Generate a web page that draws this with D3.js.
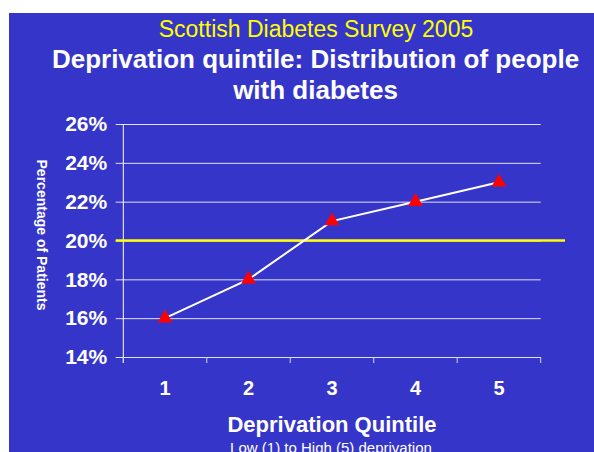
<!DOCTYPE html>
<html>
<head>
<meta charset="utf-8">
<script src="https://cdn.jsdelivr.net/npm/d3@7"></script>
<style>
  body { margin: 0; background: #ffffff; }
  svg { display: block; font-family: "Liberation Sans", Arial, sans-serif; }
</style>
</head>
<body>
<div id="chart"></div>
<script>
// chart data
var quintiles = ['1', '2', '3', '4', '5'];
var percentages = [16, 18, 21, 22, 23];
var yTicks = [14, 16, 18, 20, 22, 24, 26];
var referenceLevel = 20;

var W = 594, H = 452;
var plotLeft = 123.3, plotRight = 540.7, plotTop = 124, plotBottom = 357;

var svg = d3.select('#chart')
    .append('svg')
    .attr('width', W)
    .attr('height', H);

// blue slide background
svg.append('rect')
    .attr('x', 9).attr('y', 13)
    .attr('width', W - 9).attr('height', H - 13)
    .attr('fill', '#3535c9');

// titles
svg.append('text')
    .attr('x', 316).attr('y', 37)
    .attr('text-anchor', 'middle')
    .attr('fill', '#ffff00')
    .style('font-size', '23px')
    .text('Scottish Diabetes Survey 2005');

svg.append('text')
    .attr('x', 315.5).attr('y', 68)
    .attr('text-anchor', 'middle')
    .attr('fill', '#ffffff')
    .style('font-size', '26px').style('font-weight', 'bold')
    .text('Deprivation quintile: Distribution of people');

svg.append('text')
    .attr('x', 315.5).attr('y', 99)
    .attr('text-anchor', 'middle')
    .attr('fill', '#ffffff')
    .style('font-size', '26px').style('font-weight', 'bold')
    .text('with diabetes');

// scales
var x = d3.scaleBand()
    .domain(quintiles)
    .range([plotLeft, plotRight]);

var y = d3.scaleLinear()
    .domain([14, 26])
    .range([plotBottom, plotTop]);

// gridlines + y labels
var gx = 115.7;
var yAxis = svg.append('g')
    .attr('transform', 'translate(' + gx + ',0)')
    .call(d3.axisLeft(y)
        .tickValues(yTicks)
        .tickSize(-(plotRight - gx))
        .tickPadding(8.5)
        .tickFormat(function (d) { return d + '%'; }));
yAxis.select('.domain').remove();
yAxis.selectAll('line').attr('stroke', '#ffffff').attr('stroke-opacity', 0.85);
yAxis.selectAll('text')
    .attr('fill', '#ffffff')
    .style('font-size', '21px').style('font-weight', 'bold')
    .style('font-family', '"Liberation Sans", Arial, sans-serif');

// y axis line
svg.append('line')
    .attr('x1', plotLeft).attr('x2', plotLeft)
    .attr('y1', plotTop).attr('y2', plotBottom + 6)
    .attr('stroke', '#ffffff');

// x axis: ticks at band edges, labels at band centres
var edges = quintiles.map(function (q) { return x(q); })
    .concat([x(quintiles[quintiles.length - 1]) + x.bandwidth()]);
svg.selectAll('.xtick')
    .data(edges)
    .enter().append('line')
    .attr('x1', function (d) { return d; }).attr('x2', function (d) { return d; })
    .attr('y1', plotBottom).attr('y2', plotBottom + 6)
    .attr('stroke', '#d8d8f0');

var xAxis = svg.append('g')
    .attr('transform', 'translate(0,' + plotBottom + ')')
    .call(d3.axisBottom(x).tickSize(0).tickPadding(24));
xAxis.select('.domain').remove();
xAxis.selectAll('text')
    .attr('fill', '#ffffff')
    .style('font-size', '20px').style('font-weight', 'bold')
    .style('font-family', '"Liberation Sans", Arial, sans-serif');

// 20% reference line
svg.append('line')
    .attr('x1', gx).attr('x2', 565)
    .attr('y1', y(referenceLevel)).attr('y2', y(referenceLevel))
    .attr('stroke', '#ffff00')
    .attr('stroke-width', 2.5);

// data line
var pts = quintiles.map(function (q, i) { return { q: q, v: percentages[i] }; });
svg.append('path')
    .datum(pts)
    .attr('fill', 'none')
    .attr('stroke', '#ffffff')
    .attr('stroke-width', 2)
    .attr('d', d3.line()
        .x(function (d) { return x(d.q) + x.bandwidth() / 2; })
        .y(function (d) { return y(d.v); }));

svg.selectAll('.marker')
    .data(pts)
    .enter().append('path')
    .attr('transform', function (d) {
        return 'translate(' + (x(d.q) + x.bandwidth() / 2) + ',' + y(d.v) + ')';
    })
    .attr('d', d3.symbol().type(d3.symbolTriangle).size(95))
    .attr('fill', '#ff0000');

// axis titles
svg.append('text')
    .attr('transform', 'translate(37,235) rotate(90)')
    .attr('text-anchor', 'middle')
    .attr('fill', '#ffffff')
    .style('font-size', '14px').style('font-weight', 'bold')
    .text('Percentage of Patients');

svg.append('text')
    .attr('x', 332).attr('y', 432)
    .attr('text-anchor', 'middle')
    .attr('fill', '#ffffff')
    .style('font-size', '22px').style('font-weight', 'bold')
    .text('Deprivation Quintile');

svg.append('text')
    .attr('x', 331).attr('y', 452.5)
    .attr('text-anchor', 'middle')
    .attr('fill', '#ffffff')
    .style('font-size', '15px')
    .text('Low (1) to High (5) deprivation');
</script>
</body>
</html>
